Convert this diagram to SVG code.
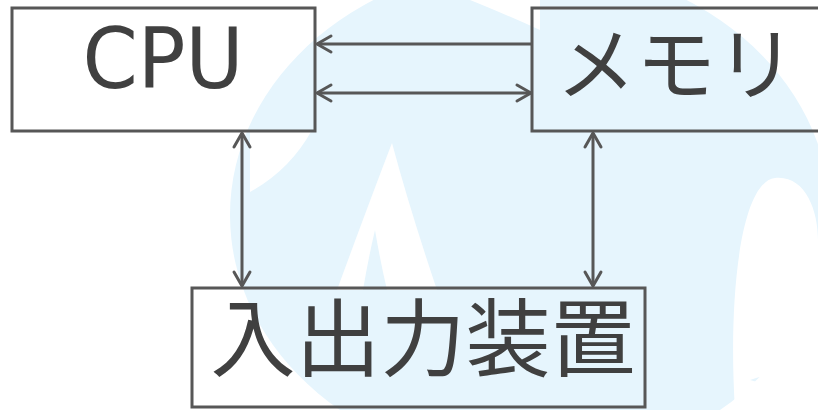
<svg xmlns="http://www.w3.org/2000/svg" width="818" height="410" viewBox="0 0 818 410">
  <style>
    .box { fill: none; stroke: #575757; stroke-width: 3; }
    .lbl { fill: #404040; font-family: "Noto Sans CJK JP", "Noto Sans", sans-serif; font-size: 85px; text-anchor: middle; }
    .lat { font-family: "DejaVu Sans Condensed", "DejaVu Sans", sans-serif; font-size: 84px; }
    .mem { font-size: 80px; }
    .wire { fill: none; stroke: #575757; stroke-width: 3; }
    .wm { fill: #e6f5fd; }
    .wh { fill: #ffffff; }
  </style>
  <defs>
    <marker id="head" markerUnits="userSpaceOnUse" markerWidth="20" markerHeight="22" viewBox="0 0 20 22" refX="17" refY="11" orient="auto-start-reverse">
      <path d="M3,3 L17,11 L3,19" fill="none" stroke="#575757" stroke-width="3" stroke-linecap="round" stroke-linejoin="round"/>
    </marker>
  </defs>
  <rect x="0" y="0" width="818" height="410" fill="#ffffff"/>
  <g id="watermark">
    <ellipse class="wm" cx="530" cy="215" rx="300" ry="252"/>
    <path class="wh" d="M337,290 Q370,200 392,143 Q410,210 437,290 Z"/>
    <path class="wm" d="M363,290 Q368,260 375,230 Q380,260 387,290 Z"/>
    <path class="wh" d="M735,410 C728,300 740,182 775,178 C805,175 818,210 818,240 L818,372 Q780,370 750,380 L818,400 L818,410 Z"/>
    <path class="wh" d="M250,130 L312,130 Q290,170 250,192 Z"/>
    <path class="wh" d="M470,0 L540,0 L540,30 Q500,12 470,0 Z"/>
  </g>
  <g id="connectors">
    <line class="wire" x1="532" y1="44" x2="317" y2="44" marker-end="url(#head)"/>
    <line class="wire" x1="317" y1="93" x2="531" y2="93" marker-start="url(#head)" marker-end="url(#head)"/>
    <line class="wire" x1="242" y1="133" x2="242" y2="286" marker-start="url(#head)" marker-end="url(#head)"/>
    <line class="wire" x1="593" y1="133" x2="593" y2="286" marker-start="url(#head)" marker-end="url(#head)"/>
  </g>
  <g id="cpu">
    <rect class="box" x="12" y="8" width="303" height="123"/>
    <text class="lbl lat" x="163" y="88" textLength="161" lengthAdjust="spacingAndGlyphs">CPU</text>
  </g>
  <g id="memory">
    <rect class="box" x="532" y="8" width="300" height="123"/>
    <text class="lbl mem" x="676" y="93">メモリ</text>
  </g>
  <g id="io">
    <rect class="box" x="192" y="288" width="453" height="119"/>
    <text class="lbl" x="423" y="370">入出力装置</text>
  </g>
</svg>
